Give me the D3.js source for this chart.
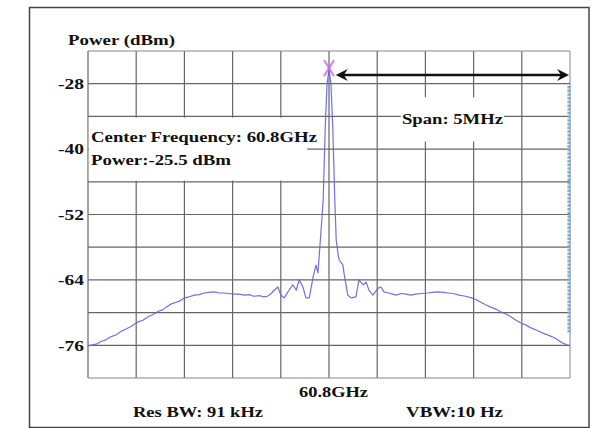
<!DOCTYPE html>
<html>
<head>
<meta charset="utf-8">
<script src="https://cdn.jsdelivr.net/npm/d3@7/dist/d3.min.js"></script>
<style>
  html, body { margin: 0; padding: 0; background: #fff; }
  svg { display: block; }
  text { font-family: "Liberation Serif", "Times New Roman", serif; font-weight: bold; fill: #111; }
</style>
</head>
<body>
<svg id="chart" width="601" height="428"></svg>
<script>
// ---- data (offset from 60.8 GHz in MHz, power in dBm) ----
const freqOffsetMHz = [
  -5.00, -4.90, -4.83, -4.73, -4.63, -4.52, -4.42, -4.31, -4.21, -4.10, -3.96, -3.86, -3.76, -3.64,
  -3.53, -3.45, -3.38, -3.27, -3.17, -3.08, -3.00, -2.90, -2.79, -2.69, -2.59, -2.49, -2.39, -2.28,
  -2.18, -2.08, -1.97, -1.87, -1.76, -1.66, -1.56, -1.45, -1.35, -1.28, -1.24, -1.19, -1.14, -1.06,
  -1.00, -0.93, -0.88, -0.83, -0.75, -0.68, -0.62, -0.54, -0.48, -0.41, -0.33, -0.27, -0.23, -0.19,
  -0.12, -0.08, -0.04, 0.00, 0.04, 0.08, 0.12, 0.15, 0.19, 0.21, 0.29, 0.31, 0.39, 0.46, 0.56,
  0.62, 0.71, 0.77, 0.83, 0.91, 1.02, 1.08, 1.14, 1.24, 1.32, 1.39, 1.50, 1.60, 1.70, 1.80, 1.92,
  2.05, 2.15, 2.26, 2.37, 2.47, 2.58, 2.70, 2.83, 2.95, 3.05, 3.15, 3.26, 3.36, 3.47, 3.57, 3.68,
  3.78, 3.88, 3.98, 4.09, 4.19, 4.30, 4.40, 4.47, 4.54, 4.62, 4.71, 4.78, 4.85, 4.93, 5.00
];
const powerDbm = [
  -76.1, -75.9, -75.8, -75.3, -75.0, -74.4, -74.1, -73.4, -73.0, -72.5, -71.7, -71.4, -70.8, -70.3,
  -69.7, -69.5, -69.0, -68.4, -68.1, -67.8, -67.3, -67.1, -66.8, -66.7, -66.4, -66.3, -66.2, -66.4,
  -66.4, -66.5, -66.6, -66.6, -66.8, -66.7, -67.0, -66.9, -67.1, -67.0, -66.8, -66.4, -65.9, -65.3,
  -66.8, -67.3, -66.6, -65.9, -64.9, -65.9, -64.0, -65.3, -67.3, -67.3, -63.5, -61.3, -62.7, -58.0,
  -49.3, -36.5, -27.9, -25.5, -27.9, -36.5, -49.3, -56.7, -59.4, -60.3, -61.3, -62.7, -66.8, -67.3, -67.1,
  -64.0, -64.9, -64.4, -65.9, -66.8, -65.5, -65.3, -66.2, -66.4, -66.6, -66.8, -66.5, -66.6, -66.8, -66.6, -66.5,
  -66.4, -66.3, -66.2, -66.3, -66.4, -66.5, -66.8, -67.0, -67.3, -67.6, -68.1, -68.6, -69.0, -69.4, -69.9, -70.3,
  -70.8, -71.4, -71.9, -72.3, -72.8, -73.2, -73.6, -73.9, -74.1, -74.4, -74.8, -75.2, -75.6, -75.9, -76.1
];
const xGridMHz = [-5, -4, -3, -2, -1, 0, 1, 2, 3, 4, 5];
const yGridDbm = [-22, -28, -34, -40, -46, -52, -58, -64, -70, -76, -82];
const yTickLabels = [-28, -40, -52, -64, -76];
const xTickLabels = [0];
const centerLabel = "60.8GHz";
const peakPower = -25.5;
const spanMarkerMHz = 4.98;

// ---- scales ----
const svg = d3.select("#chart");
const x = d3.scaleLinear().domain([-5, 5]).range([88, 570]);
const y = d3.scaleLinear().domain([-82, -22]).range([378, 51]);

// outer border
svg.append("rect").attr("x", 29.5).attr("y", 7.5).attr("width", 559.5).attr("height", 420)
  .attr("fill", "#fff").attr("stroke", "#444").attr("stroke-width", 1.5);

// grid
const grid = svg.append("g");
grid.selectAll("line.v").data(xGridMHz).join("line").attr("class", "v")
  .attr("x1", d => x(d)).attr("x2", d => x(d)).attr("y1", y(-22)).attr("y2", y(-82))
  .attr("stroke", d => (d === 5 ? "#999" : "#666")).attr("stroke-width", 1.2);
grid.selectAll("line.h").data(yGridDbm).join("line").attr("class", "h")
  .attr("x1", x(-5)).attr("x2", x(5)).attr("y1", d => y(d)).attr("y2", d => y(d))
  .attr("stroke", d => (d === -22 || d === -82 ? "#888" : "#666")).attr("stroke-width", 1.2);

// white label backgrounds that hide the grid
svg.append("rect").attr("x", x(-5) + 0.8).attr("y", y(-34) + 1.2)
  .attr("width", x(-0.47) - x(-5)).attr("height", y(-46) - y(-34) - 2.4).attr("fill", "#fff");
svg.append("rect").attr("x", x(1.49)).attr("y", y(-30.5))
  .attr("width", x(3.63) - x(1.49)).attr("height", y(-38.6) - y(-30.5)).attr("fill", "#fff");

// span marker (dashed blue vertical)
svg.append("line").attr("x1", x(spanMarkerMHz)).attr("x2", x(spanMarkerMHz))
  .attr("y1", y(-28.4)).attr("y2", y(-73.6))
  .attr("stroke", "#86a9cc").attr("stroke-width", 3.2).attr("stroke-dasharray", "2.5,1.2");

// trace
const line = d3.line().x((d, i) => x(freqOffsetMHz[i])).y(d => y(d));
svg.append("path").datum(powerDbm).attr("d", line)
  .attr("fill", "none").attr("stroke", "#6262dc").attr("stroke-width", 1.2)
  .attr("stroke-linejoin", "round").attr("opacity", 0.9);

// peak marker
const px = x(0), py = y(peakPower) - 2;
svg.append("path")
  .attr("d", `M${px - 5},${py - 8}L${px + 5},${py + 8}M${px + 5},${py - 8}L${px - 5},${py + 8}`)
  .attr("stroke", "#d060d8").attr("stroke-width", 2.2).attr("fill", "none").attr("opacity", 0.75);

// span arrow
const ay = y(-26.4), ax1 = x(0.14), ax2 = x(spanMarkerMHz);
svg.append("line").attr("x1", ax1 + 6).attr("x2", ax2 - 6).attr("y1", ay).attr("y2", ay)
  .attr("stroke", "#111").attr("stroke-width", 2.6);
svg.append("path").attr("d", `M${ax1},${ay}L${ax1 + 12},${ay - 6}L${ax1 + 8},${ay}L${ax1 + 12},${ay + 6}Z`).attr("fill", "#111");
svg.append("path").attr("d", `M${ax2},${ay}L${ax2 - 12},${ay - 6}L${ax2 - 8},${ay}L${ax2 - 12},${ay + 6}Z`).attr("fill", "#111");

// axes
const yAxis = d3.axisLeft(y).tickValues(yTickLabels).tickSize(0).tickPadding(4).tickFormat(d => String(d));
const gy = svg.append("g").attr("transform", `translate(${x(-5)},0)`).call(yAxis);
gy.select(".domain").remove();
gy.selectAll("text").attr("font-family", "Liberation Serif").attr("font-weight", "bold")
  .attr("font-size", 15).attr("fill", "#111").attr("textLength", 26).attr("lengthAdjust", "spacingAndGlyphs");

const xAxis = d3.axisBottom(x).tickValues(xTickLabels).tickSize(0).tickPadding(8).tickFormat(() => centerLabel);
const gx = svg.append("g").attr("transform", `translate(0,${y(-82)})`).call(xAxis);
gx.select(".domain").remove();
gx.selectAll("text").attr("font-family", "Liberation Serif").attr("font-weight", "bold")
  .attr("font-size", 15).attr("fill", "#111").attr("dx", 4)
  .attr("textLength", 69).attr("lengthAdjust", "spacingAndGlyphs");

// annotation texts
function label(t, tx, ty, w) {
  svg.append("text").attr("x", tx).attr("y", ty).attr("font-size", 15)
    .attr("textLength", w).attr("lengthAdjust", "spacingAndGlyphs").text(t);
}
label("Power (dBm)", 68, 45, 107);
label("Center Frequency: 60.8GHz", 91, 142, 226);
label("Power:-25.5 dBm", 91, 165, 140);
label("Span: 5MHz", 402, 124, 101);
label("Res BW: 91 kHz", 133, 417, 130);
label("VBW:10 Hz", 406, 417, 97);
</script>
</body>
</html>
